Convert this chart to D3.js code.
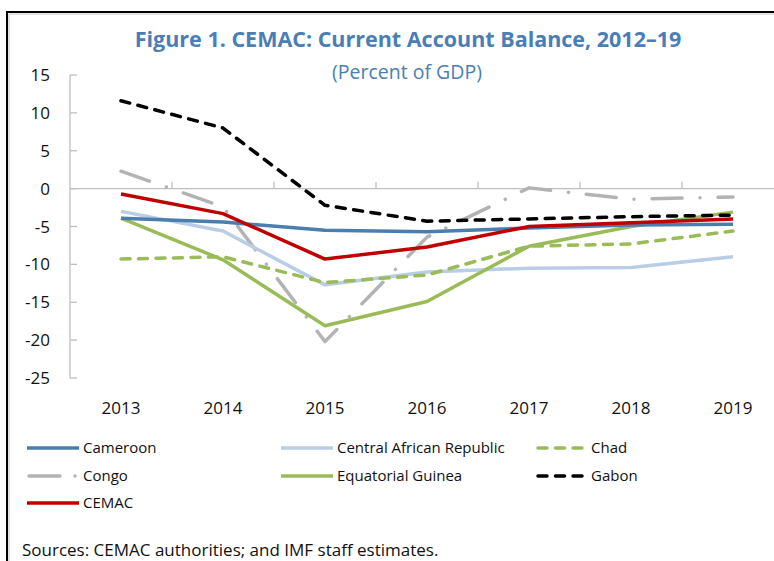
<!DOCTYPE html>
<html>
<head>
<meta charset="utf-8">
<script src="https://cdn.jsdelivr.net/npm/d3@7"></script>
<style>
  body { margin: 0; background: #fff; }
  text { font-family: "Open Sans", sans-serif; }
</style>
</head>
<body>
<div id="chart"></div>
<script>
// ---------------- data ----------------
var years = ["2013", "2014", "2015", "2016", "2017", "2018", "2019"];
var yTicks = [15, 10, 5, 0, -5, -10, -15, -20, -25];

var cameroon = [-3.9, -4.4, -5.5, -5.7, -5.2, -4.8, -4.7];
var car      = [-3.0, -5.6, -12.7, -11.0, -10.5, -10.4, -9.0];
var chad     = [-9.3, -9.0, -12.4, -11.4, -7.6, -7.3, -5.6];
var congo    = [2.3, -2.4, -20.2, -6.4, 0.1, -1.4, -1.1];
var eqGuinea = [-3.9, -9.4, -18.1, -14.9, -7.6, -5.0, -3.1];
var gabon    = [11.6, 8.0, -2.2, -4.3, -4.0, -3.7, -3.5];
var cemac    = [-0.7, -3.3, -9.3, -7.7, -5.0, -4.5, -4.0];

var series = [
  {name: "Cameroon", values: cameroon, color: "#4a7eac", dash: null},
  {name: "Central African Republic", values: car, color: "#b9cde5", dash: null},
  {name: "Chad", values: chad, color: "#9bbb59", dash: "9,8.5"},
  {name: "Congo", values: congo, color: "#b3b3b3", dash: "30,18,0.01,18"},
  {name: "Equatorial Guinea", values: eqGuinea, color: "#9bbb59", dash: null},
  {name: "Gabon", values: gabon, color: "#000000", dash: "9,8.5"},
  {name: "CEMAC", values: cemac, color: "#c00000", dash: null}
];
// draw order (CEMAC on top)
var drawOrder = ["Congo", "Central African Republic", "Equatorial Guinea", "Chad", "Cameroon", "Gabon", "CEMAC"];

var W = 774, H = 561;
var svg = d3.select("#chart").append("svg")
  .attr("width", W).attr("height", H);

// frame
svg.append("path")
  .attr("d", "M9," + H + " V14 H" + W)
  .attr("fill", "none").attr("stroke", "#c8c8c8").attr("stroke-width", 1);
svg.append("path")
  .attr("d", "M7," + H + " V12 H" + W)
  .attr("fill", "none").attr("stroke", "#000").attr("stroke-width", 2);

// titles
svg.append("text")
  .attr("x", 408).attr("y", 47)
  .attr("text-anchor", "middle")
  .style("font-size", "21.5px").style("font-weight", "bold")
  .style("fill", "#4a7eb5")
  .text("Figure 1. CEMAC: Current Account Balance, 2012\u201319");
svg.append("text")
  .attr("x", 407).attr("y", 79)
  .attr("text-anchor", "middle")
  .style("font-size", "19.5px")
  .style("fill", "#4a7eb5")
  .text("(Percent of GDP)");

// scales
var x = d3.scaleBand().domain(years).range([70, 784]);
var y = d3.scaleLinear().domain([-25, 15]).range([378, 75]);

// y axis
var yAxis = svg.append("g").attr("class", "yaxis");
yAxis.append("line")
  .attr("x1", 70).attr("x2", 70)
  .attr("y1", y(15)).attr("y2", y(-25))
  .attr("stroke", "#bfbfbf").attr("stroke-width", 1.3);
yAxis.selectAll(".ytick")
  .data(yTicks)
  .enter().append("line")
  .attr("x1", 70).attr("x2", 77)
  .attr("y1", function(d) { return y(d); })
  .attr("y2", function(d) { return y(d); })
  .attr("stroke", "#bfbfbf").attr("stroke-width", 1.3);
yAxis.selectAll(".ylabel")
  .data(yTicks)
  .enter().append("text")
  .attr("x", 50)
  .attr("y", function(d) { return y(d); })
  .attr("dy", "0.36em")
  .attr("text-anchor", "end")
  .style("font-size", "17px")
  .style("fill", "#111")
  .text(function(d) { return d; });

// zero line with category ticks
svg.append("line")
  .attr("x1", 70).attr("x2", W)
  .attr("y1", y(0)).attr("y2", y(0))
  .attr("stroke", "#bfbfbf").attr("stroke-width", 1.3);
svg.selectAll(".xtick")
  .data(years.slice(1))
  .enter().append("line")
  .attr("x1", function(d) { return x(d); })
  .attr("x2", function(d) { return x(d); })
  .attr("y1", y(0)).attr("y2", y(0) - 7)
  .attr("stroke", "#bfbfbf").attr("stroke-width", 1.3);

// category labels
svg.selectAll(".xlabel")
  .data(years)
  .enter().append("text")
  .attr("x", function(d) { return x(d) + x.bandwidth() / 2; })
  .attr("y", 414)
  .attr("text-anchor", "middle")
  .style("font-size", "17px")
  .style("fill", "#111")
  .text(function(d) { return d; });

// lines
var line = d3.line()
  .x(function(d, i) { return x(years[i]) + x.bandwidth() / 2; })
  .y(function(d) { return y(d); });

var byName = {};
series.forEach(function(s) { byName[s.name] = s; });

svg.append("g").selectAll("path")
  .data(drawOrder.map(function(n) { return byName[n]; }))
  .enter().append("path")
  .attr("d", function(d) { return line(d.values); })
  .attr("fill", "none")
  .attr("stroke", function(d) { return d.color; })
  .attr("stroke-width", 3.5)
  .attr("stroke-linecap", function(d) { return d.dash ? "round" : "butt"; })
  .attr("stroke-linejoin", "round")
  .attr("stroke-dasharray", function(d) { return d.dash; });

// legend
var legendCols = [27, 281, 536];
var legendRows = [448, 476, 503];
var legend = svg.append("g").selectAll("g")
  .data(series)
  .enter().append("g")
  .attr("transform", function(d, i) {
    return "translate(" + legendCols[i % 3] + "," + legendRows[Math.floor(i / 3)] + ")";
  });
legend.append("line")
  .attr("x1", function(d) { return d.dash ? 2 : 0; })
  .attr("x2", function(d) { return d.dash ? 50 : 52; })
  .attr("y1", 0).attr("y2", 0)
  .attr("stroke", function(d) { return d.color; })
  .attr("stroke-width", 3.5)
  .attr("stroke-linecap", function(d) { return d.dash ? "round" : "butt"; })
  // congo's sample is one long dash and a dot
  .attr("stroke-dasharray", function(d) { return d.name == "Congo" ? "31,15,0.01,40" : d.dash; });
legend.append("text")
  .attr("x", function(d, i) { return i % 3 == 2 ? 55 : 56; })
  .attr("y", 0)
  .attr("dy", "0.35em")
  .style("font-size", "15px")
  .style("fill", "#111")
  .text(function(d) { return d.name; });

// source note
svg.append("text")
  .attr("x", 22).attr("y", 556)
  .style("font-size", "17px")
  .style("fill", "#111")
  .text("Sources: CEMAC authorities; and IMF staff estimates.");
</script>
</body>
</html>
